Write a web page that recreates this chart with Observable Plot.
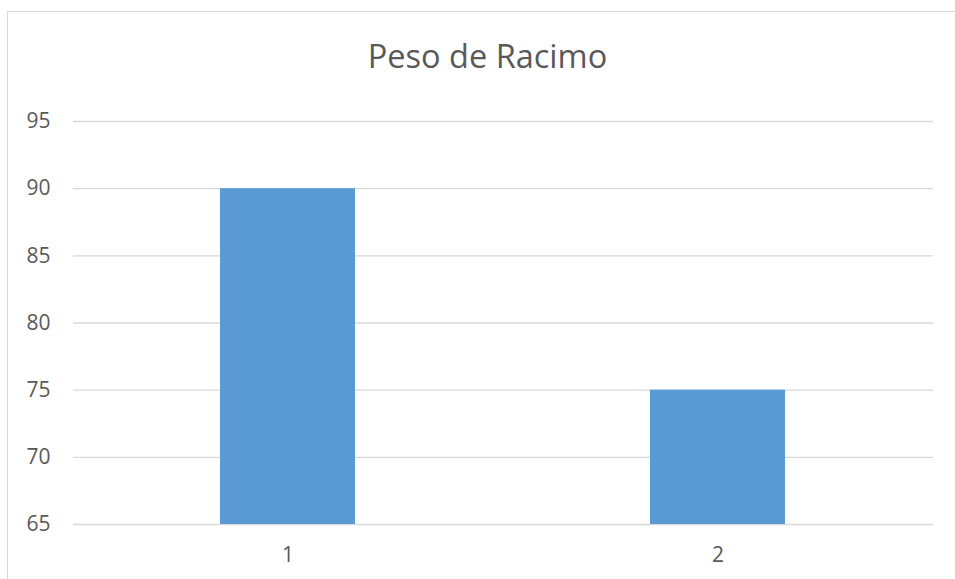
<!DOCTYPE html>
<html>
<head>
<meta charset="utf-8">
<script src="https://cdn.jsdelivr.net/npm/d3@7"></script>
<script src="https://cdn.jsdelivr.net/npm/@observablehq/plot@0.6"></script>
<style>
  html, body { margin: 0; padding: 0; background: #fff; overflow: hidden; width: 955px; height: 579px; }
  #frame { position: absolute; left: 7px; top: 11px; width: 1100px; height: 1100px; border: 1px solid #d9d9d9; box-sizing: border-box; }
  #title { position: absolute; left: 0; top: 0; width: 975px; height: 90px; text-align: center; font-family: "Open Sans", sans-serif; font-size: 32.5px; color: #595959; line-height: 1; }
  #title span { position: absolute; left: 0; right: 0; top: 40px; }
  #chart { position: absolute; left: 0; top: 90px; }
</style>
</head>
<body>
<div id="frame"></div>
<div id="title"><span>Peso de Racimo</span></div>
<div id="chart"></div>
<script>
const categories = ["1", "2"];
const values = [90, 75];
const yTicks = [65, 70, 75, 80, 85, 90, 95];

const data = categories.map((c, i) => ({category: c, value: values[i]}));

const plot = Plot.plot({
  width: 955,
  height: 489,
  marginLeft: 73,
  marginRight: 22,
  marginTop: 31,
  marginBottom: 55,
  style: {fontFamily: "Open Sans, sans-serif", fontSize: "21px", color: "#595959", background: "transparent"},
  x: {domain: categories, paddingInner: 0.686, paddingOuter: 0.343, label: null},
  y: {domain: [65, 95], ticks: yTicks, label: null},
  marks: [
    Plot.gridY(yTicks, {stroke: "#d9d9d9", strokeOpacity: 1, strokeWidth: 1.3}),
    Plot.barY(data, {x: "category", y1: 65, y2: "value", fill: "#5b9bd5"}),
    Plot.axisY(yTicks, {tickSize: 0, tickPadding: 23, fill: "#595959", fontSize: 21, label: null}),
    Plot.axisX({tickSize: 0, tickPadding: 23, fill: "#595959", fontSize: 21, label: null})
  ]
});
document.getElementById("chart").appendChild(plot);
</script>
</body>
</html>
